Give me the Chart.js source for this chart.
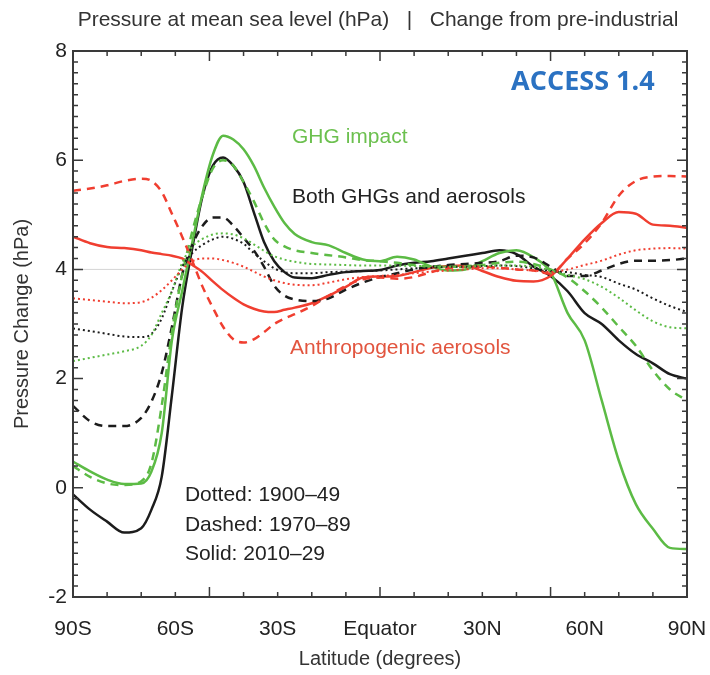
<!DOCTYPE html>
<html>
<head>
<meta charset="utf-8">
<script src="https://cdn.jsdelivr.net/npm/chart.js@4.4.1/dist/chart.umd.min.js"></script>
<style>
  html, body { margin: 0; padding: 0; background: #fff; }
  #wrap { width: 710px; height: 675px; }
</style>
</head>
<body>
<div id="wrap"><canvas id="chartPresion"></canvas></div>
<script>
// latitud (grados, negativo = sur)
const latitudes = [-90,-85,-80,-75,-70,-67,-64,-61,-58,-55,-52,-49,-46,-43,-40,-37,-34,-31,-28,-25,-20,-15,-10,-5,0,5,10,15,20,25,30,35,40,45,50,55,60,65,70,75,80,85,90];

const latTickLabels = ["90S","60S","30S","Equator","30N","60N","90N"];

// GHG impact
const ghgDotted = [2.32,2.38,2.44,2.5,2.6,2.8,3.2,3.6,4.12,4.42,4.56,4.64,4.66,4.64,4.57,4.46,4.34,4.24,4.18,4.14,4.1,4.09,4.08,4.07,4.07,4.07,4.06,4.06,4.05,4.05,4.06,4.07,4.07,4.05,3.98,3.9,3.82,3.68,3.48,3.25,3.05,2.94,2.92];
const ghgDashed = [0.4,0.2,0.08,0.05,0.12,0.45,1.5,2.85,3.9,4.7,5.35,5.85,6.0,5.9,5.6,5.25,4.85,4.55,4.42,4.35,4.3,4.26,4.22,4.17,4.15,4.12,4.08,4.05,4.05,4.06,4.08,4.12,4.14,4.1,4.0,3.85,3.6,3.3,2.95,2.6,2.15,1.8,1.6];
const ghgSolid = [0.48,0.3,0.15,0.07,0.08,0.3,1.0,2.7,3.6,4.5,5.4,6.1,6.45,6.38,6.2,5.9,5.5,5.15,4.85,4.65,4.5,4.44,4.3,4.18,4.15,4.23,4.18,4.05,3.98,4.0,4.15,4.3,4.35,4.22,3.95,3.2,2.7,1.6,0.5,-0.3,-0.75,-1.1,-1.12];

// Both GHGs and aerosols
const bothDotted = [2.92,2.87,2.82,2.77,2.76,2.82,3.1,3.6,4.05,4.3,4.45,4.55,4.6,4.56,4.47,4.3,4.15,4.02,3.95,3.93,3.93,3.95,3.96,3.97,3.98,4.0,4.02,4.03,4.05,4.05,4.06,4.07,4.06,4.02,3.97,3.95,3.9,3.86,3.74,3.63,3.47,3.33,3.22];
const bothDashed = [1.5,1.22,1.13,1.13,1.28,1.58,2.1,2.95,3.9,4.45,4.8,4.95,4.95,4.8,4.58,4.35,4.05,3.7,3.52,3.45,3.42,3.47,3.63,3.76,3.86,3.93,4.0,4.05,4.08,4.1,4.12,4.15,4.25,4.22,4.05,3.88,3.88,3.98,4.1,4.16,4.16,4.17,4.2];
const bothSolid = [-0.12,-0.4,-0.62,-0.82,-0.74,-0.4,0.2,1.7,3.3,4.4,5.35,5.9,6.05,5.9,5.6,5.05,4.5,4.15,3.95,3.85,3.84,3.9,3.95,3.97,3.99,4.07,4.12,4.15,4.2,4.25,4.3,4.35,4.28,4.05,3.88,3.6,3.2,3.0,2.7,2.45,2.28,2.08,2.0];

// Anthropogenic aerosols
const aeroDotted = [3.47,3.44,3.41,3.38,3.4,3.48,3.62,3.8,4.0,4.15,4.2,4.2,4.17,4.12,4.05,3.96,3.87,3.8,3.75,3.72,3.71,3.76,3.82,3.86,3.88,3.9,3.93,3.96,3.98,4.0,4.02,4.02,4.0,3.98,3.95,4.0,4.08,4.16,4.27,4.35,4.38,4.39,4.38];
const aeroDashed = [5.44,5.48,5.54,5.62,5.66,5.62,5.42,5.02,4.6,4.15,3.68,3.3,2.95,2.72,2.66,2.72,2.85,3.0,3.1,3.18,3.33,3.52,3.7,3.82,3.85,3.83,3.86,3.95,4.02,4.05,4.05,4.03,4.0,3.98,3.92,4.2,4.48,4.85,5.35,5.62,5.7,5.71,5.7];
const aeroSolid = [4.6,4.48,4.41,4.39,4.35,4.31,4.28,4.25,4.2,4.08,3.95,3.78,3.62,3.48,3.36,3.28,3.23,3.22,3.26,3.3,3.38,3.52,3.68,3.85,3.87,3.88,3.95,4.03,4.06,4.07,3.97,3.86,3.79,3.78,3.88,4.2,4.55,4.85,5.05,5.02,4.82,4.8,4.76];

const FUENTE = "'Liberation Sans', Arial, sans-serif";
const VERDE = "#5cbb45";
const NEGRO = "#1c1c1c";
const ROJO = "#f03e30";

const PUNTEADO = [2, 3];
const RAYADO = [8, 6];

function serie(valores, color, dash, ancho) {
  return {
    data: latitudes.map((lat, i) => ({ x: lat, y: valores[i] })),
    borderColor: color,
    borderWidth: ancho,
    borderDash: dash,
    pointRadius: 0,
    fill: false,
    cubicInterpolationMode: "monotone",
  };
}

// marcas hacia adentro, linea gris, marco y textos
const marcoPlugin = {
  id: "marco",
  beforeDatasetsDraw(chart) {
    const { ctx, chartArea: a, scales: { y } } = chart;
    ctx.save();
    ctx.strokeStyle = "#d4d4d4";
    ctx.lineWidth = 1;
    const y4 = y.getPixelForValue(4);
    ctx.beginPath();
    ctx.moveTo(a.left, y4);
    ctx.lineTo(a.right, y4);
    ctx.stroke();
    ctx.restore();
  },
  afterDatasetsDraw(chart) {
    const { ctx, chartArea: a, scales: { x, y } } = chart;
    ctx.save();
    ctx.strokeStyle = "#3a3a3a";
    ctx.lineWidth = 1.5;
    for (let lat = -90; lat <= 90; lat += 10) {
      const px = x.getPixelForValue(lat);
      const len = [-90, -50, 0, 50, 90].includes(lat) ? 10 : 5;
      ctx.beginPath();
      ctx.moveTo(px, a.bottom); ctx.lineTo(px, a.bottom - len);
      ctx.moveTo(px, a.top); ctx.lineTo(px, a.top + len);
      ctx.stroke();
    }
    for (let k = 0; k <= 50; k++) {
      const v = -2 + k * 0.2;
      const py = y.getPixelForValue(v);
      const len = k % 10 === 0 ? 10 : 5;
      ctx.beginPath();
      ctx.moveTo(a.left, py); ctx.lineTo(a.left + len, py);
      ctx.moveTo(a.right, py); ctx.lineTo(a.right - len, py);
      ctx.stroke();
    }
    ctx.lineWidth = 2;
    ctx.strokeRect(a.left, a.top, a.right - a.left, a.bottom - a.top);
    ctx.restore();
  },
  afterDraw(chart) {
    const { ctx, chartArea: a, scales: { x, y } } = chart;
    const texto = (t, lat, v, color, font, align) => {
      ctx.fillStyle = color;
      ctx.font = font;
      ctx.textAlign = align || "left";
      ctx.textBaseline = "middle";
      ctx.fillText(t, x.getPixelForValue(lat), y.getPixelForValue(v));
    };
    ctx.save();
    // titulo centrado sobre el area del grafico
    ctx.fillStyle = "#333";
    ctx.font = "21px " + FUENTE;
    ctx.textAlign = "center";
    ctx.textBaseline = "middle";
    ctx.fillText("Pressure at mean sea level (hPa)   |   Change from pre-industrial", (a.left + a.right) / 2 - 2, 20);

    texto("ACCESS 1.4", 80.5, 7.42, "#2b72c2", "bold 27px 'Open Sans', sans-serif", "right");
    texto("GHG impact", -25.8, 6.43, "#6cc04f", "21px " + FUENTE);
    texto("Both GHGs and aerosols", -25.8, 5.33, "#222", "21px " + FUENTE);
    texto("Anthropogenic aerosols", -26.4, 2.56, "#e2553f", "21px " + FUENTE);
    texto("Dotted: 1900\u201349", -57.2, -0.13, "#222", "21px " + FUENTE);
    texto("Dashed: 1970\u201389", -57.2, -0.68, "#222", "21px " + FUENTE);
    texto("Solid: 2010\u201329", -57.2, -1.22, "#222", "21px " + FUENTE);
    ctx.restore();
  },
};

new Chart(document.getElementById("chartPresion"), {
  type: "line",
  data: {
    datasets: [
      serie(aeroDotted, ROJO, PUNTEADO, 2),
      serie(ghgDotted, VERDE, PUNTEADO, 2),
      serie(bothDotted, NEGRO, PUNTEADO, 2),
      serie(aeroDashed, ROJO, RAYADO, 2.5),
      serie(ghgDashed, VERDE, RAYADO, 2.5),
      serie(bothDashed, NEGRO, RAYADO, 2.5),
      serie(aeroSolid, ROJO, [], 2.5),
      serie(ghgSolid, VERDE, [], 2.5),
      serie(bothSolid, NEGRO, [], 2.5),
    ],
  },
  options: {
    responsive: true,
    maintainAspectRatio: false,
    animation: false,
    layout: { padding: { top: 51, right: 23, left: 0, bottom: 0 } },
    plugins: {
      legend: { display: false },
      tooltip: { enabled: false },
    },
    scales: {
      x: {
        type: "linear",
        min: -90,
        max: 90,
        grid: { display: false, drawTicks: false },
        border: { display: false },
        afterFit: (s) => {
          s.height = 78;
          s.paddingLeft = 0;
          s.paddingRight = 0;
        },
        afterBuildTicks: (s) => {
          s.ticks = latTickLabels.map((_, i) => ({ value: -90 + i * 30 }));
        },
        ticks: {
          color: "#222",
          font: { family: FUENTE, size: 21 },
          padding: 20,
          maxRotation: 0,
          autoSkip: false,
          callback: (v) => latTickLabels[Math.round((v + 90) / 30)],
        },
        title: {
          display: true,
          text: "Latitude (degrees)",
          color: "#333",
          font: { family: FUENTE, size: 20 },
          padding: { top: 0, bottom: 4 },
        },
      },
      y: {
        min: -2,
        max: 8,
        grid: { display: false, drawTicks: false },
        border: { display: false },
        afterFit: (s) => { s.width = 73; },
        ticks: {
          stepSize: 2,
          color: "#222",
          font: { family: FUENTE, size: 21 },
          padding: 6,
        },
        title: {
          display: true,
          text: "Pressure Change (hPa)",
          color: "#333",
          font: { family: FUENTE, size: 20 },
          padding: { top: 10, bottom: 0 },
        },
      },
    },
  },
  plugins: [marcoPlugin],
});
</script>
</body>
</html>
